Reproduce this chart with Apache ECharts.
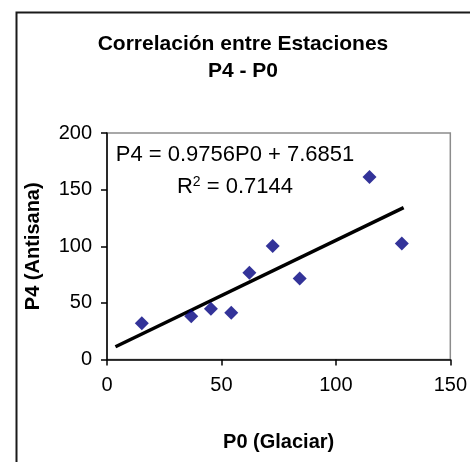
<!DOCTYPE html>
<html>
<head>
<meta charset="utf-8">
<script src="https://cdn.jsdelivr.net/npm/echarts@6/dist/echarts.min.js"></script>
<style>
html,body{margin:0;padding:0;background:#fff;}
#c{width:470px;height:462px;}
</style>
</head>
<body>
<div id="c"></div>
<script>
// Data
const p0Values = [15.2, 36.8, 45.4, 54.3, 62.2, 72.4, 84.2, 114.7, 128.8];
const p4Values = [31.9, 38.3, 44.8, 41.2, 76.5, 100.3, 71.5, 161.1, 102.4];
const trendSlope = 0.9756;
const trendIntercept = 7.6851;
const trendXRange = [3.7, 129.6];
const rSquared = 0.7144;
const xTicks = [0, 50, 100, 150];
const yTicks = [0, 50, 100, 150, 200];

const FONT = '"Liberation Sans", Arial, sans-serif';
const chart = echarts.init(document.getElementById('c'), null, {renderer: 'canvas'});

const points = p0Values.map((x, i) => [x, p4Values[i]]);
const trend = trendXRange.map(x => [x, trendSlope * x + trendIntercept]);

chart.setOption({
  animation: false,
  backgroundColor: '#ffffff',
  title: {
    text: 'Correlación entre Estaciones\nP4 - P0',
    left: 238,
    textAlign: 'center',
    top: 26,
    textStyle: {fontFamily: FONT, fontSize: 21, fontWeight: 'bold', color: '#000', lineHeight: 27}
  },
  grid: {
    left: 107, top: 133, width: 346, height: 226.5,
    show: true, borderColor: '#8c8c8c', borderWidth: 1.5, backgroundColor: '#fff'
  },
  xAxis: {
    type: 'value', min: xTicks[0], max: xTicks[xTicks.length - 1], interval: 50,
    name: 'P0 (Glaciar)', nameLocation: 'middle', nameGap: 73,
    nameTextStyle: {fontFamily: FONT, fontSize: 20, fontWeight: 'bold', color: '#000'},
    axisLine: {show: true, onZero: false, lineStyle: {color: '#000', width: 1.5}},
    axisTick: {show: true, length: 6, lineStyle: {color: '#000', width: 1.5}},
    axisLabel: {fontFamily: FONT, fontSize: 20, color: '#000', margin: 16},
    splitLine: {show: false}
  },
  yAxis: {
    type: 'value', min: yTicks[0], max: yTicks[yTicks.length - 1], interval: 50,
    name: 'P4 (Antisana)', nameLocation: 'middle', nameGap: 64, nameRotate: 90,
    nameTextStyle: {fontFamily: FONT, fontSize: 20, fontWeight: 'bold', color: '#000'},
    axisLine: {show: true, onZero: false, lineStyle: {color: '#000', width: 1.5}},
    axisTick: {show: true, length: 6, lineStyle: {color: '#000', width: 1.5}},
    axisLabel: {fontFamily: FONT, fontSize: 20, color: '#000', margin: 15},
    splitLine: {show: false}
  },
  series: [
    {
      type: 'line', data: trend, symbol: 'none', silent: true,
      lineStyle: {color: '#000', width: 3.5}, z: 2
    },
    {
      type: 'scatter', data: points, symbol: 'diamond', symbolSize: 14,
      itemStyle: {color: '#000080'}, z: 3
    }
  ],
  graphic: [
    {
      type: 'rect', left: 14, top: 10, z: 100, silent: true,
      shape: {x: 0, y: 0, width: 500, height: 500},
      style: {fill: 'none', stroke: '#1a1a1a', lineWidth: 2}
    },
    {
      type: 'text', x: 235, y: 155, z: 100,
      style: {text: 'P4 = ' + trendSlope + 'P0 + ' + trendIntercept, fontFamily: FONT, fontSize: 22,
        fill: '#000', align: 'center', verticalAlign: 'middle'}
    },
    {
      type: 'text', x: 235, y: 187, z: 100,
      style: {text: '{n|R}{s|2}{n| = ' + rSquared + '}',
        align: 'center', verticalAlign: 'middle',
        rich: {
          n: {fontFamily: FONT, fontSize: 22, color: '#000'},
          s: {fontFamily: FONT, fontSize: 14, color: '#000', verticalAlign: 'top', padding: [0, 0, 10, 0]}
        }}
    }
  ]
});
</script>
</body>
</html>
